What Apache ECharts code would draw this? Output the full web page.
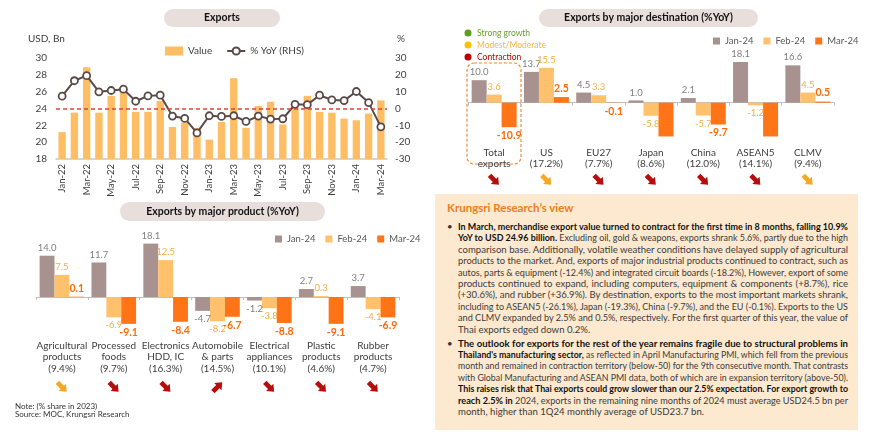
<!DOCTYPE html>
<html><head><meta charset="utf-8">
<script src="https://cdn.jsdelivr.net/npm/echarts@6/dist/echarts.min.js"></script>
<style>
html,body{margin:0;padding:0;background:#fff;}
#wrap{position:relative;width:870px;height:439px;overflow:hidden;font-family:Lato,"Open Sans",sans-serif;}
#chart{position:absolute;left:0;top:0;width:870px;height:439px;}
#box{position:absolute;left:435px;top:194px;width:423px;height:236px;background:#fde9cf;}
#box .ttl{position:absolute;left:12px;top:7px;line-height:14px;font-weight:bold;color:#ef7d22;font-size:11.5px;white-space:nowrap;}
.para{position:absolute;left:23px;width:390px;font-size:9.6px;color:#3b3b3b;line-height:11.4px;}
.ln{white-space:nowrap;height:11.4px;}
.in{display:inline-block;transform-origin:0 50%;}
.para b{color:#111;}
.bul{position:absolute;left:-11px;top:0;color:#333;}
</style>
</head><body>
<div id="wrap">
<div id="chart"></div>
<div id="box">
<div class="ttl">Krungsri Research’s view</div>
<div class="para" style="top:27px">
<span class="bul">•</span>
<div class="ln"><span class="in"><b>In March, merchandise export value turned to contract for the first time in 8 months, falling 10.9%</b></span></div>
<div class="ln"><span class="in"><b>YoY to USD 24.96 billion.</b> Excluding oil, gold &amp; weapons, exports shrank 5.6%, partly due to the high</span></div>
<div class="ln"><span class="in">comparison base. Additionally, volatile weather conditions have delayed supply of agricultural</span></div>
<div class="ln"><span class="in">products to the market. And, exports of major industrial products continued to contract, such as</span></div>
<div class="ln"><span class="in">autos, parts &amp; equipment (-12.4%) and integrated circuit boards (-18.2%), However, export of some</span></div>
<div class="ln"><span class="in">products continued to expand, including computers, equipment &amp; components (+8.7%), rice</span></div>
<div class="ln"><span class="in">(+30.6%), and rubber (+36.9%). By destination, exports to the most important markets shrank,</span></div>
<div class="ln"><span class="in">including to ASEAN5 (-26.1%), Japan (-19.3%), China (-9.7%), and the EU (-0.1%). Exports to the US</span></div>
<div class="ln"><span class="in">and CLMV expanded by 2.5% and 0.5%, respectively. For the first quarter of this year, the value of</span></div>
<div class="ln last"><span class="in">Thai exports edged down 0.2%.</span></div>
</div>
<div class="para" style="top:143.6px">
<span class="bul">•</span>
<div class="ln"><span class="in"><b>The outlook for exports for the rest of the year remains fragile due to structural problems in</b></span></div>
<div class="ln"><span class="in"><b>Thailand's manufacturing sector,</b> as reflected in April Manufacturing PMI, which fell from the previous</span></div>
<div class="ln"><span class="in">month and remained in contraction territory (below-50) for the 9th consecutive month. That contrasts</span></div>
<div class="ln"><span class="in">with Global Manufacturing and ASEAN PMI data, both of which are in expansion territory (above-50).</span></div>
<div class="ln"><span class="in"><b>This raises risk that Thai exports could grow slower than our 2.5% expectation. For export growth to</b></span></div>
<div class="ln"><span class="in"><b>reach 2.5% in</b> 2024, exports in the remaining nine months of 2024 must average USD24.5 bn per</span></div>
<div class="ln last"><span class="in">month, higher than 1Q24 monthly average of USD23.7 bn.</span></div>
</div>
</div>
</div>
<script>
// ---------- DATA ----------
const months = ['Jan-22','Feb-22','Mar-22','Apr-22','May-22','Jun-22','Jul-22','Aug-22','Sep-22','Oct-22','Nov-22','Dec-22','Jan-23','Feb-23','Mar-23','Apr-23','May-23','Jun-23','Jul-23','Aug-23','Sep-23','Oct-23','Nov-23','Dec-23','Jan-24','Feb-24','Mar-24'];
const exportValue = [21.2,23.5,28.9,23.5,25.5,26.1,23.6,23.6,24.9,21.8,22.3,21.7,20.3,22.4,27.6,21.7,24.3,24.8,22.1,24.1,25.5,23.6,23.5,22.8,22.6,23.4,24.96];
const exportYoY = [7.3,16.5,19.5,9.9,10.7,11.5,4.3,7.5,7.9,-4.5,-5.9,-14.5,-4.3,-4.7,-4.3,-7.7,-4.5,-6.3,-6.1,2.5,2.3,7.9,5.1,4.7,10.1,3.5,-10.9];
const valueTicks = [18,30,2];   // min, max, step
const yoyTicks = [-30,30,10];

const destCats = ['Total\nexports','US\n(17.2%)','EU27\n(7.7%)','Japan\n(8.6%)','China\n(12.0%)','ASEAN5\n(14.1%)','CLMV\n(9.4%)'];
const destJan = [10.0,13.7,4.5,1.0,2.1,18.1,16.6];
const destFeb = [3.6,15.5,3.3,-5.8,-5.7,-1.2,4.5];
const destMar = [-10.9,2.5,-0.1,-19.3,-9.7,-26.1,0.5];
const destSignal = ['Contraction','Modest/Moderate','Contraction','Contraction','Contraction','Contraction','Modest/Moderate'];
const destTrend = ['down','down','down','down','down','down','down'];

const prodCats = ['Agricultural\nproducts\n(9.4%)','Processed\nfoods\n(9.7%)','Electronics\nHDD, IC\n(16.3%)','Automobile\n& parts\n(14.5%)','Electrical\nappliances\n(10.1%)','Plastic\nproducts\n(4.6%)','Rubber\nproducts\n(4.7%)'];
const prodJan = [14.0,11.7,18.1,-4.7,-1.2,2.7,3.7];
const prodFeb = [7.5,-6.9,12.5,-8.2,-3.8,0.3,-4.1];
const prodMar = [0.1,-9.1,-8.4,-6.7,-8.8,-9.1,-6.9];
const prodSignal = ['Modest/Moderate','Contraction','Contraction','Contraction','Contraction','Contraction','Contraction'];
const prodTrend = ['down','down','down','up','down','down','down'];

const seriesNames = ['Jan-24','Feb-24','Mar-24'];
const signalNames = ['Strong growth','Modest/Moderate','Contraction'];

// ---------- STYLE ----------
const FONT = 'Lato, "Open Sans", sans-serif';
const C_JAN = '#a8928f', C_FEB = '#ffc16b', C_MAR = '#ff7417';
const signalColor = {'Strong growth':'#5e9e1c','Modest/Moderate':'#f7a823','Contraction':'#b80d0d'};
const dotColor = {'Strong growth':'#5e9e1c','Modest/Moderate':'#ffc000','Contraction':'#c00000'};
const signalText = {'Strong growth':'#6aa12a','Modest/Moderate':'#f6b640','Contraction':'#c00000'};
const DEST_MIN = -15, DEST_MAX = 20, PROD_MIN = -10, PROD_MAX = 20;

function barData(vals, min){
  return vals.map(v => ({value: v, label: {position: v < 0 ? 'bottom' : 'top', show: v >= min}}));
}
function labelCfg(color, size, weight){
  return {show:true, formatter: p => Number(p.value).toFixed(1), distance:3, color, fontSize:size, fontWeight:weight, fontFamily:FONT};
}
function barSeries(name, vals, xi, yi, min, color, lc, ls, lw){
  return {type:'bar', name, xAxisIndex:xi, yAxisIndex:yi, data: barData(vals, min),
    barGap:'0%', barCategoryGap:'14%', itemStyle:{color}, label: labelCfg(lc, ls, lw), clip:true};
}
const catAxisLabel = {color:'#404040', fontSize:10, lineHeight:11.8, fontFamily:FONT, interval:0};

const chart = echarts.init(document.getElementById('chart'), null, {renderer:'canvas'});
const option = {
  animation:false,
  backgroundColor:'transparent',
  textStyle:{fontFamily:FONT},
  grid:[
    {left:56, top:58, width:331, height:101, containLabel:false, outerBoundsMode:'none'},
    {left:468, top:57.7, width:366, height:78.75, containLabel:false, outerBoundsMode:'none'},
    {left:36, top:238, width:363, height:88.5, containLabel:false, outerBoundsMode:'none'}
  ],
  legend:[
    {left:165, top:46, padding:0, itemWidth:18, itemHeight:9, itemGap:14,
     textStyle:{fontSize:10, color:'#404040', fontFamily:FONT},
     data:[{name:'Value', icon:'rect'},{name:'% YoY (RHS)'}]},
    {left:713, top:36, padding:0, icon:'rect', itemWidth:7, itemHeight:7, itemGap:10,
     textStyle:{fontSize:9.5, color:'#595959', fontFamily:FONT}, data:seriesNames},
    {left:275, top:234, padding:0, icon:'rect', itemWidth:7, itemHeight:7, itemGap:10,
     textStyle:{fontSize:9.5, color:'#595959', fontFamily:FONT}, data:seriesNames}
  ],
  xAxis:[
    {type:'category', gridIndex:0, data:months, boundaryGap:true,
     axisLine:{onZero:false, lineStyle:{color:'#c8c8c8', width:1.5}}, axisTick:{show:false},
     axisLabel:{rotate:90, interval:1, fontSize:9.5, color:'#404040', margin:5, fontFamily:FONT}},
    {type:'category', gridIndex:1, data:destCats,
     axisLine:{onZero:true, lineStyle:{color:'#bfbfbf'}}, axisTick:{show:true, length:3, lineStyle:{color:'#bfbfbf'}},
     axisLabel:Object.assign({margin:10}, catAxisLabel)},
    {type:'category', gridIndex:2, data:prodCats,
     axisLine:{onZero:true, lineStyle:{color:'#bfbfbf'}}, axisTick:{show:true, length:3, lineStyle:{color:'#bfbfbf'}},
     axisLabel:Object.assign({margin:13}, catAxisLabel)}
  ],
  yAxis:[
    {type:'value', gridIndex:0, min:valueTicks[0], max:valueTicks[1], interval:valueTicks[2],
     splitLine:{show:false}, axisLine:{show:false}, axisTick:{show:false},
     axisLabel:{color:'#404040', fontSize:10, margin:9, fontFamily:FONT}},
    {type:'value', gridIndex:0, position:'right', min:yoyTicks[0], max:yoyTicks[1], interval:yoyTicks[2],
     splitLine:{show:false}, axisLine:{show:false}, axisTick:{show:false},
     axisLabel:{color:'#404040', fontSize:10, margin:8, fontFamily:FONT}},
    {type:'value', gridIndex:1, min:DEST_MIN, max:DEST_MAX, show:false, splitLine:{show:false}},
    {type:'value', gridIndex:2, min:PROD_MIN, max:PROD_MAX, show:false, splitLine:{show:false}}
  ],
  series:[
    {type:'bar', name:'Value', xAxisIndex:0, yAxisIndex:0, data:exportValue, barWidth:'60%',
     itemStyle:{color:'#ffbe64'}},
    {type:'line', name:'% YoY (RHS)', xAxisIndex:0, yAxisIndex:1, data:exportYoY,
     symbol:'circle', symbolSize:7, lineStyle:{color:'#5a4a47', width:2},
     itemStyle:{color:'#ffffff', borderColor:'#5a4a47', borderWidth:1.8},
     markLine:{silent:true, symbol:'none', label:{show:false},
       lineStyle:{color:'#e2403a', type:[4,3], width:1.5}, data:[{yAxis:0}]}},
    barSeries('Jan-24', destJan, 1, 2, DEST_MIN, C_JAN, '#808080', 9.5, 'normal'),
    barSeries('Feb-24', destFeb, 1, 2, DEST_MIN, C_FEB, '#f4ad45', 9.5, 'normal'),
    barSeries('Mar-24', destMar, 1, 2, DEST_MIN, C_MAR, '#ff6a0a', 10.5, 'bold'),
    barSeries('Jan-24', prodJan, 2, 3, PROD_MIN, C_JAN, '#808080', 9.5, 'normal'),
    barSeries('Feb-24', prodFeb, 2, 3, PROD_MIN, C_FEB, '#f4ad45', 9.5, 'normal'),
    barSeries('Mar-24', prodMar, 2, 3, PROD_MIN, C_MAR, '#ff6a0a', 10.5, 'bold')
  ]
};
chart.setOption(option);

// ---------- ANNOTATIONS ----------
function pill(x, y, w, h, text){
  return [
    {type:'rect', shape:{x, y, width:w, height:h, r:h/2}, style:{fill:'#e8dfdd'}, z:1},
    {type:'text', x:x + w/2, y:y + h/2, z:2, style:{text, fill:'#111', fontSize:10.5, fontWeight:'bold', fontFamily:FONT, align:'center', verticalAlign:'middle'}}
  ];
}
function txt(x, y, text, size, color, extra){
  return {type:'text', x, y, z:2, style:Object.assign({text, fill:color, fontSize:size, fontFamily:FONT, align:'left', verticalAlign:'middle'}, extra||{})};
}
const arrowPts = [[-6.5,-2.4],[0.5,-2.4],[0.5,-5.2],[6.8,0],[0.5,5.2],[0.5,2.4],[-6.5,2.4]];
function arrow(x, y, dir, color){
  return {type:'polygon', x, y, rotation: dir === 'up' ? Math.PI/4 : -Math.PI/4, z:3,
    shape:{points:arrowPts}, style:{fill:color}};
}
const g = [];
g.push(...pill(164, 9, 116, 18, 'Exports'));
g.push(...pill(539, 9, 219, 18, 'Exports by major destination (%YoY)'));
g.push(...pill(120, 202, 205, 19, 'Exports by major product (%YoY)'));
g.push(txt(28, 39, 'USD, Bn', 10, '#404040'));
g.push(txt(397, 39, '%', 10, '#404040'));
signalNames.forEach((s, i) => {
  g.push({type:'circle', shape:{cx:468, cy:33 + i*12, r:3.5}, style:{fill:dotColor[s]}, z:2});
  g.push(txt(477, 33 + i*12, s, 8.5, signalText[s]));
});
g.push({type:'rect', shape:{x:467, y:63, width:54, height:101, r:7}, z:0,
  style:{fill:'none', stroke:'#f08a3a', lineWidth:1.2, lineDash:[3,2]}});
g.push(txt(15, 406, 'Note: (% share in 2023)', 8, '#333'));
g.push(txt(15, 414.5, 'Source: MOC, Krungsri Research', 8, '#333'));

destCats.forEach((c, i) => {
  let px = chart.convertToPixel({xAxisIndex:1}, c);
  if (!isFinite(px)) px = 468 + (i + 0.5) * 366 / destCats.length;
  g.push(arrow(px, 180, destTrend[i], signalColor[destSignal[i]]));
});
prodCats.forEach((c, i) => {
  let px = chart.convertToPixel({xAxisIndex:2}, c);
  if (!isFinite(px)) px = 36 + (i + 0.5) * 363 / prodCats.length;
  g.push(arrow(px, 387, prodTrend[i], signalColor[prodSignal[i]]));
});
chart.setOption({graphic: g});

// ---------- justify commentary ----------
function justify(){
  const W = 390;
  document.querySelectorAll('.ln').forEach(ln => {
    const inn = ln.querySelector('.in');
    inn.style.transform = ''; inn.style.wordSpacing = '';
    const w = inn.getBoundingClientRect().width;
    if (w > W) {
      inn.style.transform = 'scaleX(' + (W / w) + ')';
    } else if (!ln.classList.contains('last')) {
      const n = (inn.textContent.trim().match(/ +/g) || []).length;
      if (n) inn.style.wordSpacing = ((W - w) / n) + 'px';
    }
  });
}
justify();
if (document.fonts && document.fonts.ready) document.fonts.ready.then(justify);
</script>
</body></html>
